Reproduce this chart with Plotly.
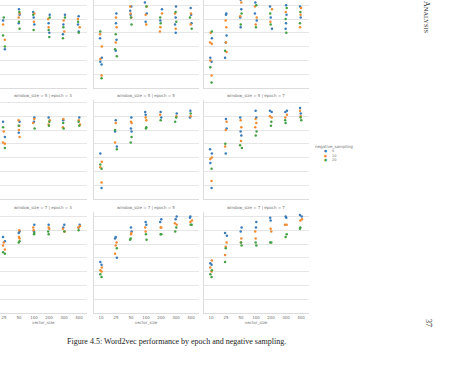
import plotly.graph_objects as go

# ---------------- data ----------------
vector_sizes = ['10', '25', '50', '100', '200', '300', '400']
windows = [3, 5, 7]
epochs = [3, 5, 7]
neg_sampling = ['5', '10', '20']
colors = ['#3a7bb8', '#f08c34', '#46a046']

# accuracy values per vector_size (list of lists), one array per window/epoch/negative
w3_e3_ns5 = [[0.30, 0.18], [0.49, 0.28], [0.57, 0.53, 0.47], [0.55, 0.51, 0.46], [0.53, 0.47, 0.40], [0.53, 0.46, 0.39], [0.52, 0.46, 0.41]]
w3_e3_ns10 = [[0.25, 0.10], [0.46, 0.35], [0.54, 0.51], [0.54, 0.48], [0.50, 0.44], [0.49, 0.41], [0.50, 0.44]]
w3_e3_ns20 = [[0.35, 0.05], [0.51, 0.38, 0.30], [0.55, 0.48, 0.43], [0.53, 0.42], [0.51, 0.42, 0.37], [0.51, 0.44, 0.36], [0.48, 0.40]]

w3_e5_ns5 = [[0.36, 0.22, 0.19, 0.17], [0.54, 0.47, 0.35, 0.27], [0.59, 0.56, 0.53], [0.62, 0.54, 0.48], [0.57, 0.49], [0.59, 0.51, 0.46, 0.40], [0.58, 0.53, 0.47]]
w3_e5_ns10 = [[0.39, 0.30, 0.21, 0.09], [0.51, 0.44, 0.33], [0.59, 0.54, 0.51], [0.59, 0.53, 0.46], [0.54, 0.44, 0.41], [0.54, 0.43], [0.54, 0.46]]
w3_e5_ns20 = [[0.41, 0.07], [0.39, 0.28, 0.23], [0.51, 0.46], [0.59], [0.51, 0.47], [0.55, 0.48], [0.51, 0.43]]

w3_e7_ns5 = [[0.36, 0.22, 0.19], [0.54, 0.53, 0.38, 0.33, 0.22], [0.64, 0.57, 0.51, 0.44], [0.62, 0.54, 0.49], [0.59, 0.51, 0.43], [0.60, 0.53, 0.47, 0.43], [0.59, 0.51]]
w3_e7_ns10 = [[0.40, 0.33, 0.32, 0.20, 0.09], [0.49, 0.44, 0.33, 0.26], [0.62, 0.52], [0.59, 0.51, 0.46], [0.57, 0.48], [0.55], [0.58, 0.53, 0.44]]
w3_e7_ns20 = [[0.41, 0.15, 0.04], [0.27], [0.54, 0.46], [0.60, 0.44], [0.54, 0.46], [0.58, 0.50, 0.40], [0.55, 0.47]]

w5_e3_ns5 = [[0.30, 0.20], [0.56, 0.45], [0.56, 0.48], [0.59, 0.56], [0.59], [0.57], [0.59]]
w5_e3_ns10 = [[0.25, 0.12], [0.49, 0.41, 0.40], [0.57, 0.53, 0.50, 0.45], [0.58, 0.55], [0.57, 0.54], [0.58, 0.52], [0.57, 0.54]]
w5_e3_ns20 = [[0.22, 0.08], [0.52, 0.37], [0.53], [0.51], [0.56, 0.53], [0.55, 0.51], [0.56, 0.53]]

w5_e5_ns5 = [[0.33, 0.08], [0.57, 0.49, 0.38], [0.59, 0.51, 0.49], [0.63, 0.61], [0.63, 0.59], [0.62], [0.64, 0.59]]
w5_e5_ns10 = [[0.27, 0.23, 0.12], [0.55, 0.41], [0.56, 0.55], [0.59, 0.57], [0.61], [0.60], [0.60]]
w5_e5_ns20 = [[0.25, 0.22], [0.50, 0.36], [0.45, 0.41], [0.52, 0.51], [0.57], [0.59, 0.56], [0.62]]

w5_e7_ns5 = [[0.36, 0.33, 0.26, 0.08], [0.58, 0.51, 0.33], [0.59, 0.49, 0.46], [0.64, 0.59], [0.64, 0.63], [0.64, 0.63], [0.66, 0.62]]
w5_e7_ns10 = [[0.30, 0.29, 0.13], [0.56, 0.50, 0.38], [0.57, 0.52, 0.42], [0.58, 0.55, 0.52], [0.60, 0.59], [0.61, 0.59], [0.64, 0.60]]
w5_e7_ns20 = [[0.22], [0.40], [0.39, 0.37], [0.49, 0.46], [0.56, 0.53], [0.57, 0.55], [0.59, 0.57]]

w7_e3_ns5 = [[0.40, 0.36], [0.55, 0.52], [0.59, 0.58], [0.64, 0.59], [0.64], [0.64, 0.62], [0.64, 0.62]]
w7_e3_ns10 = [[0.33, 0.30], [0.51, 0.49, 0.46], [0.60, 0.55, 0.54], [0.62, 0.60], [0.62, 0.61], [0.61, 0.59], [0.63, 0.62]]
w7_e3_ns20 = [[0.28, 0.26], [0.44, 0.43], [0.52, 0.51], [0.58, 0.57], [0.59, 0.57], [0.59], [0.60]]

w7_e5_ns5 = [[0.37, 0.35], [0.55, 0.54, 0.40], [0.62, 0.59], [0.66, 0.64], [0.68, 0.66], [0.70, 0.68], [0.70, 0.69]]
w7_e5_ns10 = [[0.33, 0.31, 0.30], [0.51, 0.49, 0.43], [0.58, 0.57], [0.62, 0.59], [0.62, 0.62], [0.65, 0.64], [0.67, 0.66]]
w7_e5_ns20 = [[0.28, 0.26], [0.47], [0.54, 0.53], [0.57, 0.53], [0.57, 0.57], [0.62, 0.59], [0.64, 0.64]]

w7_e7_ns5 = [[0.36, 0.35], [0.58, 0.56], [0.62, 0.59], [0.66, 0.62], [0.69, 0.67], [0.70, 0.69], [0.71, 0.70]]
w7_e7_ns10 = [[0.38, 0.33, 0.30], [0.51, 0.48, 0.42], [0.54, 0.51], [0.59, 0.54], [0.61, 0.59], [0.64, 0.64], [0.68, 0.67]]
w7_e7_ns20 = [[0.31, 0.28, 0.26], [0.47, 0.37], [0.51, 0.49], [0.51, 0.49], [0.51, 0.51], [0.57, 0.55], [0.62, 0.61]]

panels = {
    (3, 3): [w3_e3_ns5, w3_e3_ns10, w3_e3_ns20],
    (3, 5): [w3_e5_ns5, w3_e5_ns10, w3_e5_ns20],
    (3, 7): [w3_e7_ns5, w3_e7_ns10, w3_e7_ns20],
    (5, 3): [w5_e3_ns5, w5_e3_ns10, w5_e3_ns20],
    (5, 5): [w5_e5_ns5, w5_e5_ns10, w5_e5_ns20],
    (5, 7): [w5_e7_ns5, w5_e7_ns10, w5_e7_ns20],
    (7, 3): [w7_e3_ns5, w7_e3_ns10, w7_e3_ns20],
    (7, 5): [w7_e5_ns5, w7_e5_ns10, w7_e5_ns20],
    (7, 7): [w7_e7_ns5, w7_e7_ns10, w7_e7_ns20],
}

# ---------------- layout geometry (pixels on the 462x383 page) ----------------
W, H = 462, 383
col_px = [(0, 86.5), (93.5, 198.5), (203.5, 308.5)]
col_xrange = [[-0.5 + 18.5 / 15, 6.5], [-0.5, 6.5], [-0.5, 6.5]]
row_px = [(0, 88), (100, 199), (212, 313)]
px_per_unit = 138.0
title_y_px = [None, 96, 207]

grid_c = '#e6e6e6'
spine_c = '#dcdcdc'
txt_c = '#707070'
FONT = 'DejaVu Sans'

fig = go.Figure()
layout = dict(width=W, height=H, margin=dict(l=0, r=0, t=0, b=0),
              paper_bgcolor='white', plot_bgcolor='white',
              boxmode='overlay', showlegend=False,
              font=dict(family=FONT, size=4, color=txt_c))
annotations = []

for r, w in enumerate(windows):
    for c, e in enumerate(epochs):
        idx = r * 3 + c + 1
        xa = 'x' if idx == 1 else f'x{idx}'
        ya = 'y' if idx == 1 else f'y{idx}'
        for k, ns in enumerate(neg_sampling):
            lists = panels[(w, e)][k]
            xs, ys = [], []
            for vs, vals in zip(vector_sizes, lists):
                for v in vals:
                    xs.append(vs)
                    ys.append(v)
            fig.add_trace(go.Box(
                x=xs, y=ys, xaxis=xa, yaxis=ya, name=ns,
                boxpoints='all', jitter=0.3, pointpos=0,
                fillcolor='rgba(0,0,0,0)',
                line=dict(color='rgba(0,0,0,0)', width=0),
                marker=dict(color=colors[k], size=2.5, line=dict(width=0)),
                hoverinfo='skip', showlegend=False))
        x0, x1 = col_px[c]
        top, bot = row_px[r]
        height_px = bot - top
        layout['xaxis' if idx == 1 else f'xaxis{idx}'] = dict(
            domain=[x0 / W, x1 / W], anchor=ya, type='category',
            categoryorder='array', categoryarray=vector_sizes,
            range=col_xrange[c], showgrid=False, zeroline=False,
            showline=True, linecolor=spine_c, linewidth=1, ticks='',
            showticklabels=(r == 2), tickfont=dict(size=4, color=txt_c),
            title=dict(text='vector_size' if r == 2 else '',
                       font=dict(size=4, color=txt_c), standoff=1))
        layout['yaxis' if idx == 1 else f'yaxis{idx}'] = dict(
            domain=[1 - bot / H, 1 - top / H], anchor=xa,
            range=[0, height_px / px_per_unit], tick0=0, dtick=0.1,
            showgrid=True, gridcolor=grid_c, gridwidth=1, zeroline=False,
            showline=True, linecolor=spine_c, linewidth=1, ticks='',
            showticklabels=False)
        if title_y_px[r] is not None:
            annotations.append(dict(
                text=f'window_size = {w} | epoch = {e}', xref='paper', yref='paper',
                x=(x0 + x1) / 2 / W, y=1 - title_y_px[r] / H, xanchor='center',
                yanchor='middle', showarrow=False, font=dict(size=4, color=txt_c)))

# legend (drawn as text)
annotations.append(dict(text='negative_sampling', xref='paper', yref='paper',
                        x=313 / W, y=1 - 146 / H, xanchor='left', yanchor='middle',
                        showarrow=False, font=dict(size=4, color=txt_c)))
for k, ns in enumerate(neg_sampling):
    yy = 1 - (150.5 + 5 * k) / H
    annotations.append(dict(text='●', xref='paper', yref='paper', x=325 / W, y=yy,
                            xanchor='center', yanchor='middle', showarrow=False,
                            font=dict(size=3.5, color=colors[k])))
    annotations.append(dict(text=ns, xref='paper', yref='paper', x=330 / W, y=yy,
                            xanchor='left', yanchor='middle', showarrow=False,
                            font=dict(size=3.5, color=txt_c)))

# page text
annotations.append(dict(text='Figure 4.5: Word2vec performance by epoch and negative sampling.',
                        xref='paper', yref='paper', x=65 / W, y=1 - 341 / H,
                        xanchor='left', yanchor='middle', showarrow=False,
                        font=dict(family='Liberation Serif', size=8, color='#222222')))
annotations.append(dict(text='37', xref='paper', yref='paper', x=429 / W, y=1 - 323 / H,
                        xanchor='center', yanchor='middle', textangle=90, showarrow=False,
                        font=dict(family='Liberation Serif', size=8, color='#222222')))
annotations.append(dict(text='A<span style="font-size:6.4px">NALYSIS</span>',
                        xref='paper', yref='paper', x=427 / W, y=1 - 17 / H,
                        xanchor='center', yanchor='middle', textangle=90, showarrow=False,
                        font=dict(family='Liberation Serif', size=8, color='#222222')))

layout['annotations'] = annotations
fig.update_layout(**layout)
fig.write_html('out.html')
